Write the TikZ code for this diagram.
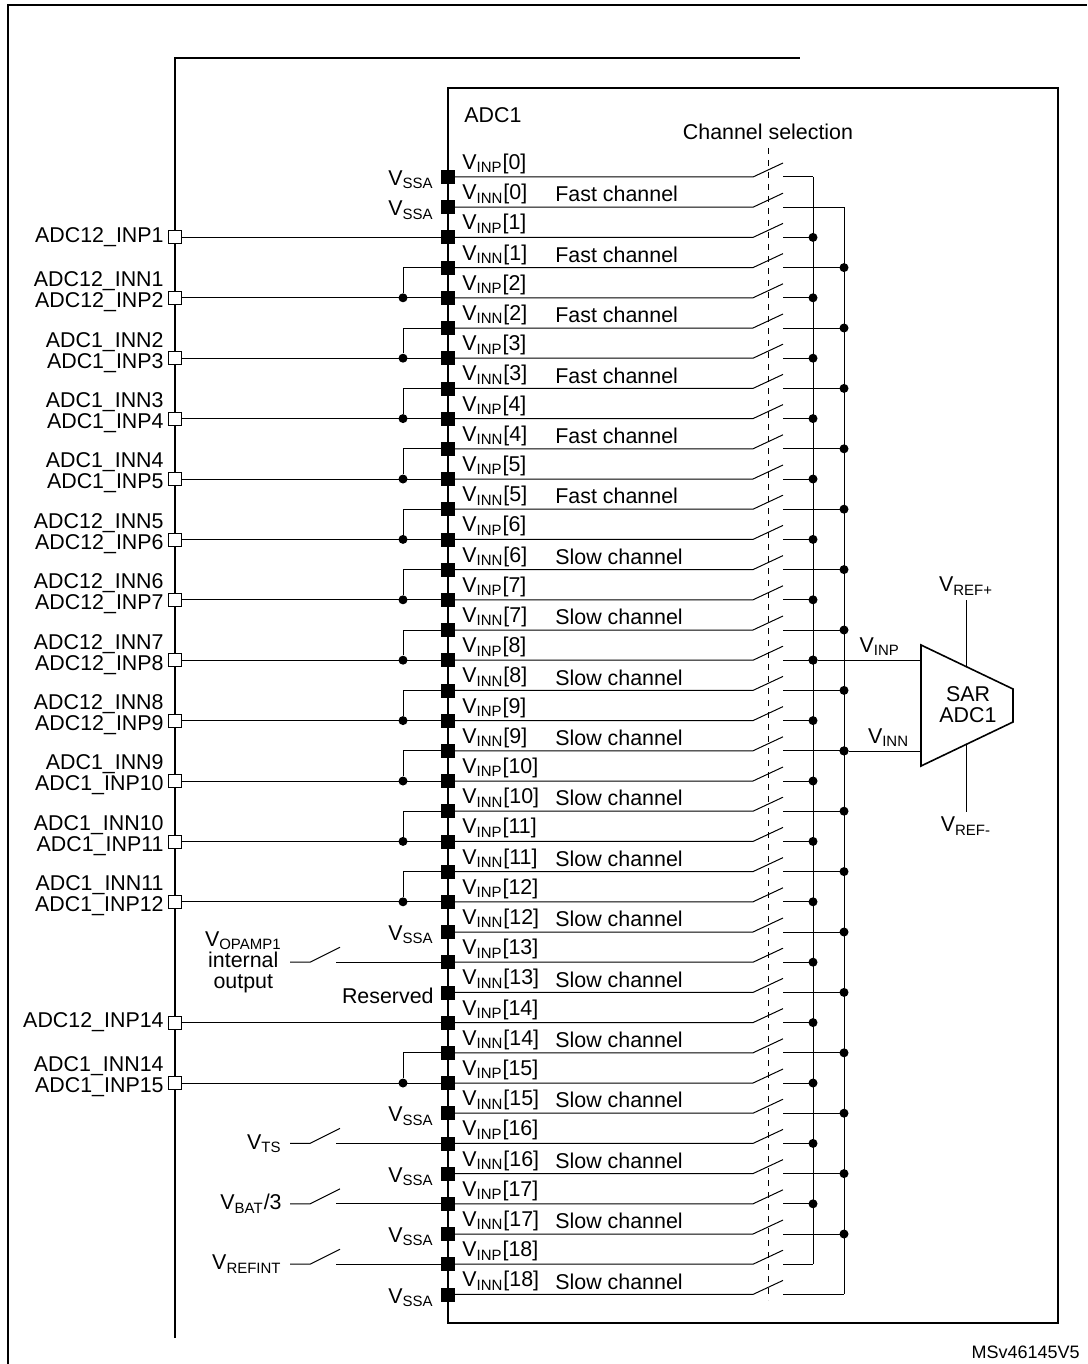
\documentclass[tikz,border=0pt]{standalone}
\usepackage{fontspec}
\setmainfont{Liberation Sans}
\usetikzlibrary{positioning}

\begin{document}
\begin{tikzpicture}[
    x=0.5pt, y=-0.5pt,
    every node/.style={font=\fontsize{10.7}{10.5}\selectfont, inner sep=1pt},
    pad/.style={fill, draw, minimum size=6.5pt, inner sep=0pt},
    pin/.style={fill=white, draw, minimum size=6.5pt, inner sep=0pt},
    jdot/.style={circle, fill, minimum size=4.5pt, inner sep=0pt},
    frame/.style={line width=1pt},
    wire/.style={line width=0.5pt}
]
    \useasboundingbox (0,0) rectangle (1087,1364);

    % frames
    \draw[frame] (8,1364) -- (8,5) -- (1087,5);
    \draw[frame] (175,1338) -- (175,58) -- (800,58);
    \draw[frame] (448,88) rectangle (1058,1323);
    \node[anchor=west] (adc) at (462,115) {ADC1};
    \node (chsel) at (768,132) {Channel selection};
    \draw[wire, dashed] (768,148) -- (768,1300);

    % buses
    \coordinate (busAt) at (813,177);
    \coordinate (busAb) at (813,{177+30.2*36});
    \coordinate (busBt) at (844,{177+30.2});
    \coordinate (busBb) at (844,{177+30.2*37});
    \draw[wire] (busAt) -- (busAb);
    \draw[wire] (busBt) -- (busBb);

    % channel rows
    \foreach \i in {0,...,37} {
        \pgfmathsetmacro\yy{177+30.2*\i}
        \pgfmathtruncatemacro\k{\i/2}
        \pgfmathtruncatemacro\odd{mod(\i,2)}
        \coordinate (sw\i) at (753,\yy);
        \coordinate (so\i) at (783,\yy);
        \draw[wire] (448,\yy) -- (sw\i) -- ++(30,-14);
        \ifnum\odd=0
            \coordinate (bus\i) at (813,\yy);
            \node[anchor=west] (lab\i) at (460,\yy-13) {V\textsubscript{INP}[\k]};
        \else
            \coordinate (bus\i) at (844,\yy);
            \node[anchor=west] (lab\i) at (460,\yy-13) {V\textsubscript{INN}[\k]};
            \ifnum\k<6
                \node[anchor=west] (ch\i) at (553,\yy-13) {Fast channel};
            \else
                \node[anchor=west] (ch\i) at (553,\yy-13) {Slow channel};
            \fi
        \fi
        \draw[wire] (so\i) -- (bus\i);
        \ifnum\i>1 \ifnum\i<36
            \node[jdot] (jd\i) at (bus\i) {};
        \fi\fi
        \node[pad] (p\i) at (448,\yy) {};
    }

    % VSSA and reserved pads
    \foreach \i in {0,1,25,31,33,35,37} {
        \node[anchor=east] (vssa\i) at (436,{177+30.2*\i+3}) {V\textsubscript{SSA}};
    }
    \node[anchor=east] (resv) at (436,{177+30.2*27+3}) {Reserved};

    % single pins
    \foreach \i/\name in {2/ADC12\_INP1, 28/ADC12\_INP14} {
        \node[pin] (pin\i) at (175,{177+30.2*\i}) {};
        \node[anchor=east] (pl\i) at (166,{177+30.2*\i}) {\name};
        \draw[wire] (pin\i) -- (p\i);
    }

    % paired pins
    \foreach \i/\na/\nb in {4/ADC12\_INN1/ADC12\_INP2, 6/ADC1\_INN2/ADC1\_INP3,
        8/ADC1\_INN3/ADC1\_INP4, 10/ADC1\_INN4/ADC1\_INP5, 12/ADC12\_INN5/ADC12\_INP6,
        14/ADC12\_INN6/ADC12\_INP7, 16/ADC12\_INN7/ADC12\_INP8, 18/ADC12\_INN8/ADC12\_INP9,
        20/ADC1\_INN9/ADC1\_INP10, 22/ADC1\_INN10/ADC1\_INP11, 24/ADC1\_INN11/ADC1\_INP12,
        30/ADC1\_INN14/ADC1\_INP15} {
        \pgfmathtruncatemacro\j{\i-1}
        \node[pin] (pin\i) at (175,{177+30.2*\i}) {};
        \node[anchor=east, align=right] (pl\i) at (166,{177+30.2*\i-6}) {\na\\\nb};
        \node[jdot] (pj\i) at (403,{177+30.2*\i}) {};
        \draw[wire] (pin\i) -- (p\i);
        \draw[wire] (pj\i) |- (p\j);
    }

    % internal sources with switches
    \foreach \i/\txt in {26/{V\textsubscript{OPAMP1}\\internal\\output}, 32/{V\textsubscript{TS}},
        34/{V\textsubscript{BAT}/3}, 36/{V\textsubscript{REFINT}}} {
        \coordinate (il\i) at (290,{177+30.2*\i});
        \coordinate (ir\i) at (310,{177+30.2*\i});
        \coordinate (io\i) at (336,{177+30.2*\i});
        \node[anchor=east, align=center] (src\i) at (284,{177+30.2*\i}) {\txt};
        \draw[wire] (il\i) -- (ir\i) -- ++(30,-15);
        \draw[wire] (io\i) -- (p\i);
    }

    % SAR ADC
    \draw[frame, line width=0.8pt] (921,645) -- (1013,689) -- (1013,722) -- (921,766) -- cycle;
    \node[align=center] (sar) at (968,705) {SAR\\ADC1};
    \node[jdot] (jinp) at (813,660) {};
    \node[jdot] (jinn) at (844,751) {};
    \coordinate (cinp) at (921,660);
    \coordinate (cinn) at (921,751);
    \draw[wire] (jinp) -- (cinp) node[pos=0.6, above=1pt] {V\textsubscript{INP}};
    \draw[wire] (jinn) -- (cinn) node[pos=0.55, above=1pt] {V\textsubscript{INN}};
    \node (vrefp) at (966,586) {V\textsubscript{REF+}};
    \node (vrefm) at (966,826) {V\textsubscript{REF-}};
    \draw[wire] (966,600) -- (966,667);
    \draw[wire] (966,745) -- (966,812);

    \node[anchor=east, font=\fontsize{9}{10}\selectfont] (ref) at (1082,1352) {MSv46145V5};
\end{tikzpicture}
\end{document}
